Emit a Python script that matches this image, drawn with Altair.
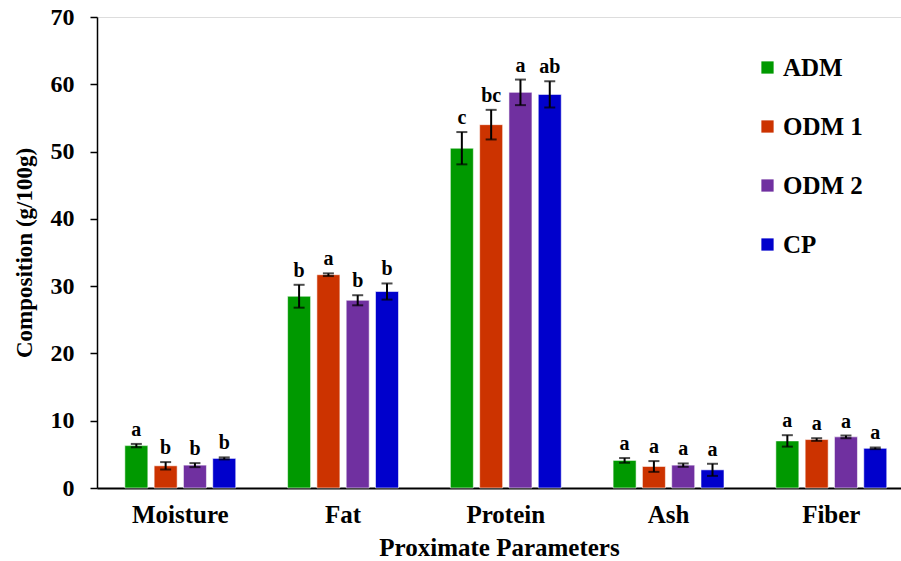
import altair as alt
import pandas as pd

params = ["Moisture", "Fat", "Protein", "Ash", "Fiber"]
groups = ["ADM", "ODM 1", "ODM 2", "CP"]
colors = ["#009900", "#CC3300", "#7030A0", "#0000CC"]

means = {
    "ADM":   [6.3, 28.5, 50.5, 4.1, 7.0],
    "ODM 1": [3.3, 31.7, 54.0, 3.2, 7.2],
    "ODM 2": [3.4, 27.9, 58.8, 3.4, 7.6],
    "CP":    [4.4, 29.2, 58.5, 2.7, 5.9],
}
errors = {
    "ADM":   [0.25, 1.7, 2.4, 0.35, 0.85],
    "ODM 1": [0.55, 0.2, 2.2, 0.8, 0.2],
    "ODM 2": [0.3, 0.75, 1.9, 0.25, 0.2],
    "CP":    [0.15, 1.2, 1.95, 0.9, 0.12],
}
letters = {
    "ADM":   ["a", "b", "c", "a", "a"],
    "ODM 1": ["b", "a", "bc", "a", "a"],
    "ODM 2": ["b", "b", "a", "a", "a"],
    "CP":    ["b", "b", "ab", "a", "a"],
}

rows = []
for g in groups:
    for i, p in enumerate(params):
        m = means[g][i]
        e = errors[g][i]
        rows.append({"param": p, "group": g, "mean": m, "lo": m - e, "hi": m + e,
                     "letter": letters[g][i]})
df = pd.DataFrame(rows)

FONT = "Liberation Serif"

x_enc = alt.X("param:N", sort=params,
              scale=alt.Scale(paddingInner=0.28, paddingOuter=0.11, align=0.69),
              axis=alt.Axis(title="Proximate Parameters", labelAngle=0, ticks=False,
                            labelPadding=14, titlePadding=8,
                            labelFontSize=25, titleFontSize=25,
                            labelFont=FONT, titleFont=FONT,
                            labelFontWeight="bold", titleFontWeight="bold",
                            labelColor="black", titleColor="black",
                            domainColor="black", domainWidth=2))
xoff = alt.XOffset("group:N", sort=groups,
                   scale=alt.Scale(paddingInner=0.215, paddingOuter=0.107))
y_scale = alt.Scale(domain=[0, 70], nice=False)

bars = alt.Chart(df).mark_bar(stroke="white", strokeWidth=0.8, strokeOpacity=0.7).encode(
    x=x_enc,
    xOffset=xoff,
    y=alt.Y("mean:Q", scale=y_scale,
            axis=alt.Axis(title="Composition (g/100g)", values=list(range(0, 71, 10)),
                          grid=False, tickSize=7, tickColor="black", tickWidth=1.5,
                          domainColor="black", domainWidth=1.5,
                          labelFontSize=24, titleFontSize=23,
                          labelFont=FONT, titleFont=FONT,
                          labelFontWeight="bold", titleFontWeight="bold",
                          labelColor="black", titleColor="black",
                          labelPadding=16, titlePadding=14)),
    color=alt.Color("group:N", sort=groups,
                    scale=alt.Scale(domain=groups, range=colors),
                    legend=alt.Legend(title=None, orient="none", legendX=658, legendY=38,
                                      symbolType="square", symbolSize=150,
                                      symbolStrokeWidth=0,
                                      labelFontSize=25, labelFont=FONT,
                                      labelFontWeight="bold", labelColor="black",
                                      labelOffset=3, rowPadding=33)),
)

rule = alt.Chart(df).mark_rule(color="black", strokeWidth=2).encode(
    x=alt.X("param:N", sort=params), xOffset=alt.XOffset("group:N", sort=groups),
    y=alt.Y("lo:Q", scale=y_scale), y2="hi:Q")

cap_lo = alt.Chart(df).mark_tick(color="black", thickness=2, size=11).encode(
    x=alt.X("param:N", sort=params), xOffset=alt.XOffset("group:N", sort=groups),
    y=alt.Y("lo:Q", scale=y_scale))
cap_hi = alt.Chart(df).mark_tick(color="black", thickness=2, size=11).encode(
    x=alt.X("param:N", sort=params), xOffset=alt.XOffset("group:N", sort=groups),
    y=alt.Y("hi:Q", scale=y_scale))

text = alt.Chart(df).mark_text(font=FONT, fontSize=20, fontWeight="bold",
                               color="black", baseline="alphabetic", dy=-8).encode(
    x=alt.X("param:N", sort=params), xOffset=alt.XOffset("group:N", sort=groups),
    y=alt.Y("hi:Q", scale=y_scale), text="letter:N")

chart = alt.layer(bars, rule, cap_lo, cap_hi, text).properties(
    width=804, height=471,
    autosize=alt.AutoSizeParams(type="none"),
    padding={"left": 97, "top": 17, "right": 0, "bottom": 73},
).configure_view(stroke=None).configure(background="white")

chart.save("out.html", embed_options={"renderer": "svg", "actions": False})
